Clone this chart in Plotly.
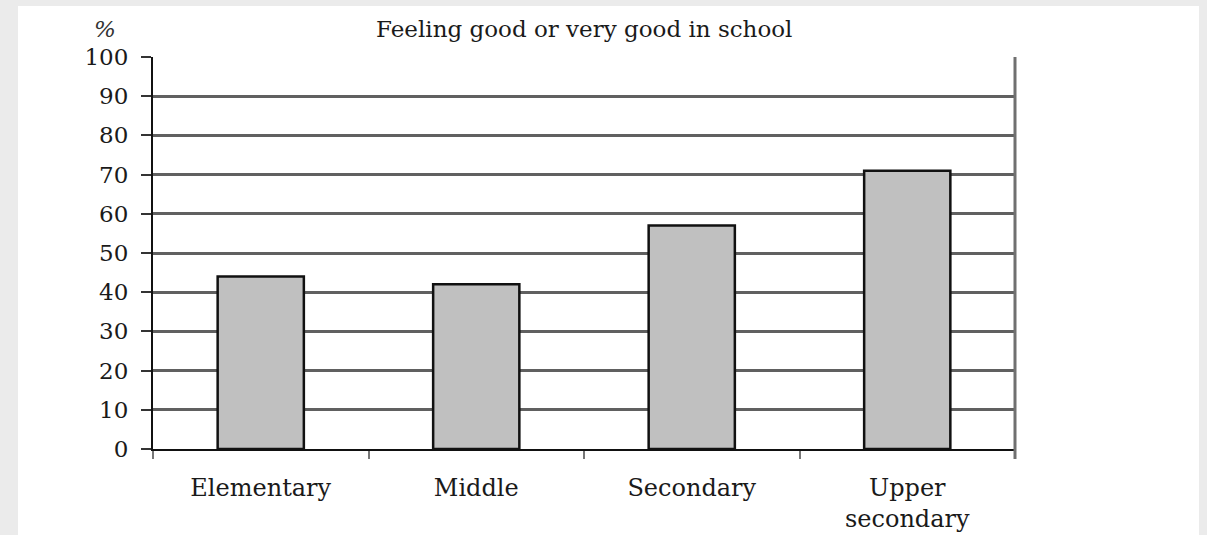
import plotly.graph_objects as go

categories = ["Elementary", "Middle", "Secondary", "Upper<br>secondary"]
values = [44, 42, 57, 71]
y_ticks = [0, 10, 20, 30, 40, 50, 60, 70, 80, 90, 100]
title_text = "Feeling good or very good in school"
unit_label = "%"

FONT = "DejaVu Serif"
W, H = 1207, 535
L, R, T, B = 153, 192, 57, 86
PW, PH = W - L - R, H - T - B

fig = go.Figure()
fig.add_trace(go.Bar(
    x=categories, y=values, width=0.4,
    marker=dict(color="#c0c0c0", line=dict(color="#111111", width=2.5)),
    hoverinfo="skip",
))

fig.update_layout(
    width=W, height=H,
    margin=dict(l=L, r=R, t=T, b=B, autoexpand=False),
    paper_bgcolor="#ebebeb",
    plot_bgcolor="white",
    showlegend=False,
    font=dict(family=FONT, size=23, color="#1a1a1a"),
)
fig.update_yaxes(
    range=[0, 100], tickvals=y_ticks, ticktext=[str(v) for v in y_ticks],
    showgrid=True, gridcolor="#606060", gridwidth=3,
    zeroline=False,
    showline=True, linecolor="#111111", linewidth=2,
    ticks="outside", ticklen=10, tickwidth=2, tickcolor="#333333",
    ticklabelstandoff=8,
    tickfont=dict(family=FONT, size=23, color="#1a1a1a"),
    fixedrange=True,
)
fig.update_xaxes(
    type="category", range=[-0.5, 3.5],
    showline=True, linecolor="#111111", linewidth=2,
    ticks="outside", tickson="boundaries", ticklen=8, tickwidth=2, tickcolor="#777777",
    ticklabelstandoff=16,
    tickfont=dict(family=FONT, size=24, color="#1a1a1a"),
    showgrid=False, fixedrange=True,
)

# white panel behind everything
fig.add_shape(type="rect", xref="paper", yref="paper", layer="below",
              x0=(18 - L) / PW, x1=(1199 - L) / PW,
              y0=-B / PH - 0.02, y1=1 + (T - 6) / PH,
              fillcolor="white", line=dict(width=0))
# right frame line
fig.add_shape(type="line", xref="paper", yref="paper", x0=1, x1=1, y0=-10 / PH, y1=1,
              line=dict(color="#707070", width=3))

fig.add_annotation(text=title_text, xref="paper", yref="paper", x=0.5, y=1,
                   yshift=13, xanchor="center", yanchor="bottom", showarrow=False,
                   font=dict(family=FONT, size=23, color="#1a1a1a"))
fig.add_annotation(text="<i>" + unit_label + "</i>", xref="paper", yref="paper", x=0, y=1,
                   xshift=-48, yshift=13, xanchor="center", yanchor="bottom", showarrow=False,
                   font=dict(family=FONT, size=23, color="#333333"))

fig.write_html("out.html", config={"displayModeBar": False},
               post_script="document.body.style.margin='0';document.body.style.background='#ebebeb';document.body.style.overflow='hidden';")
